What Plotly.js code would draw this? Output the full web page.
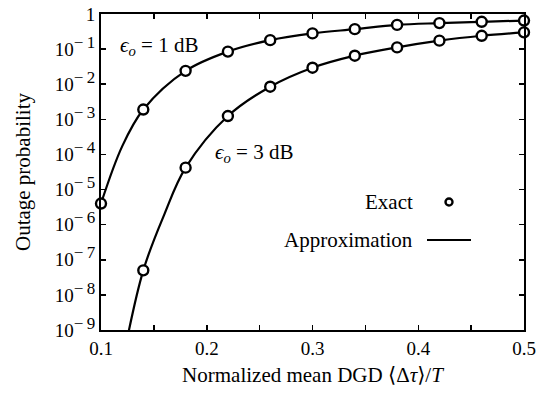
<!DOCTYPE html>
<html>
<head>
<meta charset="utf-8">
<script src="https://cdn.plot.ly/plotly-3.0.1.min.js"></script>
<style>
  html, body { margin: 0; padding: 0; background: #fff; }
  #plot { width: 541px; height: 397px; }
</style>
</head>
<body>
<div id="plot"></div>
<script>
// Normalized mean DGD values where the exact outage probability was computed
const dgd = [0.10, 0.14, 0.18, 0.22, 0.26, 0.30, 0.34, 0.38, 0.42, 0.46, 0.50];

// Exact outage probability, eps_o = 1 dB and 3 dB
const exact1dB = [4e-6, 1.9e-3, 2.4e-2, 8.5e-2, 0.18, 0.28, 0.37, 0.49, 0.55, 0.60, 0.65];
const exact3dBX = [0.14, 0.18, 0.22, 0.26, 0.30, 0.34, 0.38, 0.42, 0.46, 0.50];
const exact3dB = [5e-8, 4.2e-5, 1.24e-3, 8.5e-3, 2.95e-2, 6.5e-2, 0.112, 0.174, 0.24, 0.30];

// Approximation curves
const approx1dBX = [0.10, 0.12, 0.14, 0.18, 0.22, 0.26, 0.30, 0.34, 0.38, 0.42, 0.46, 0.50];
const approx1dB = [4e-6, 1.7e-4, 1.9e-3, 2.4e-2, 8.5e-2, 0.18, 0.28, 0.37, 0.49, 0.55, 0.60, 0.65];
const approx3dBX = [0.12, 0.14, 0.16, 0.18, 0.22, 0.26, 0.30, 0.34, 0.38, 0.42, 0.46, 0.50];
const approx3dB = [1.1e-10, 5e-8, 2e-6, 4.2e-5, 1.24e-3, 8.5e-3, 2.95e-2, 6.5e-2, 0.112, 0.174, 0.24, 0.30];

// Axis ticks
const xTickVals = [0.1, 0.15, 0.2, 0.25, 0.3, 0.35, 0.4, 0.45, 0.5];
const xTickText = ['0.1', '', '0.2', '', '0.3', '', '0.4', '', '0.5'];
const yTickVals = [1e-9, 1e-8, 1e-7, 1e-6, 1e-5, 1e-4, 1e-3, 1e-2, 1e-1, 1];
const yExponents = ['\u22129', '\u22128', '\u22127', '\u22126', '\u22125', '\u22124', '\u22123', '\u22122', '\u22121', ''];
const yTickText = yExponents.map(e => e === '' ? '1'
  : '10<sup><span style="font-size:17px">' + e.replace('\u2212', '\u2212\u2009') + '</span></sup>');

const FONT = '"Liberation Serif", "DejaVu Serif", serif';
const TICK_SIZE = 19;
const TEXT_SIZE = 21;

const lineStyle = { color: '#000', width: 2.2, shape: 'spline', smoothing: 1 };
// white-filled circles so the curve is hidden inside each marker
const markerStyle = {
  symbol: 'circle', size: 10, color: '#fff', line: { color: '#000', width: 2.4 }
};

const traces = [
  { x: approx1dBX, y: approx1dB, mode: 'lines', line: lineStyle, showlegend: false, hoverinfo: 'skip' },
  { x: approx3dBX, y: approx3dB, mode: 'lines', line: lineStyle, showlegend: false, hoverinfo: 'skip' },
  { x: dgd, y: exact1dB, mode: 'markers', marker: markerStyle, showlegend: false, cliponaxis: false },
  { x: exact3dBX, y: exact3dB, mode: 'markers', marker: markerStyle, showlegend: false, cliponaxis: false }
];

const axisCommon = {
  showline: true, linecolor: '#000', linewidth: 2,
  mirror: 'ticks', ticks: 'inside', ticklen: 5, tickwidth: 1.5, tickcolor: '#000',
  showgrid: false, zeroline: false,
  tickfont: { family: FONT, size: TICK_SIZE, color: '#000' }
};

const layout = {
  width: 541, height: 397,
  margin: { l: 101, r: 17, t: 14, b: 67 },
  paper_bgcolor: '#fff', plot_bgcolor: '#fff',
  font: { family: FONT, color: '#000' },
  xaxis: Object.assign({}, axisCommon, {
    range: [0.1, 0.5],
    tickmode: 'array', tickvals: xTickVals, ticktext: xTickText,
    title: { text: 'Normalized mean DGD \u27E8\u0394<i>\u03C4</i>\u27E9/<i>T</i>',
             font: { family: FONT, size: TEXT_SIZE, color: '#000' }, standoff: 10 }
  }),
  yaxis: Object.assign({}, axisCommon, {
    type: 'log', range: [-9, 0],
    tickmode: 'array', tickvals: yTickVals, ticktext: yTickText,
    title: { text: 'Outage probability',
             font: { family: FONT, size: TEXT_SIZE, color: '#000' }, standoff: 18 }
  }),
  annotations: [
    { xref: 'paper', yref: 'paper', x: (118 - 101) / 423, y: (330 - 46) / 316,
      xanchor: 'left', yanchor: 'middle', showarrow: false,
      text: '<i>\u03F5</i><sub><i>o</i></sub> = 1 dB', font: { family: FONT, size: TEXT_SIZE, color: '#000' } },
    { xref: 'paper', yref: 'paper', x: (213 - 101) / 423, y: (330 - 153) / 316,
      xanchor: 'left', yanchor: 'middle', showarrow: false,
      text: '<i>\u03F5</i><sub><i>o</i></sub> = 3 dB', font: { family: FONT, size: TEXT_SIZE, color: '#000' } },
    { xref: 'paper', yref: 'paper', x: (415 - 101) / 423, y: (330 - 202) / 316,
      xanchor: 'right', yanchor: 'middle', showarrow: false,
      text: 'Exact', font: { family: FONT, size: TEXT_SIZE, color: '#000' } },
    { xref: 'paper', yref: 'paper', x: (415 - 101) / 423, y: (330 - 240) / 316,
      xanchor: 'right', yanchor: 'middle', showarrow: false,
      text: 'Approximation', font: { family: FONT, size: TEXT_SIZE, color: '#000' } }
  ],
  shapes: [
    // legend symbols: open circle for the exact values, line for the approximation
    { type: 'circle', xref: 'paper', yref: 'paper',
      x0: (445.5 - 101) / 423, x1: (452.5 - 101) / 423,
      y0: (330 - 205.5) / 316, y1: (330 - 198.5) / 316,
      line: { color: '#000', width: 2.4 }, fillcolor: '#fff' },
    { type: 'line', xref: 'paper', yref: 'paper',
      x0: (427 - 101) / 423, x1: (471 - 101) / 423,
      y0: (330 - 240) / 316, y1: (330 - 240) / 316,
      line: { color: '#000', width: 2.2 } }
  ]
};

Plotly.newPlot('plot', traces, layout, { staticPlot: true, displayModeBar: false });
</script>
</body>
</html>
